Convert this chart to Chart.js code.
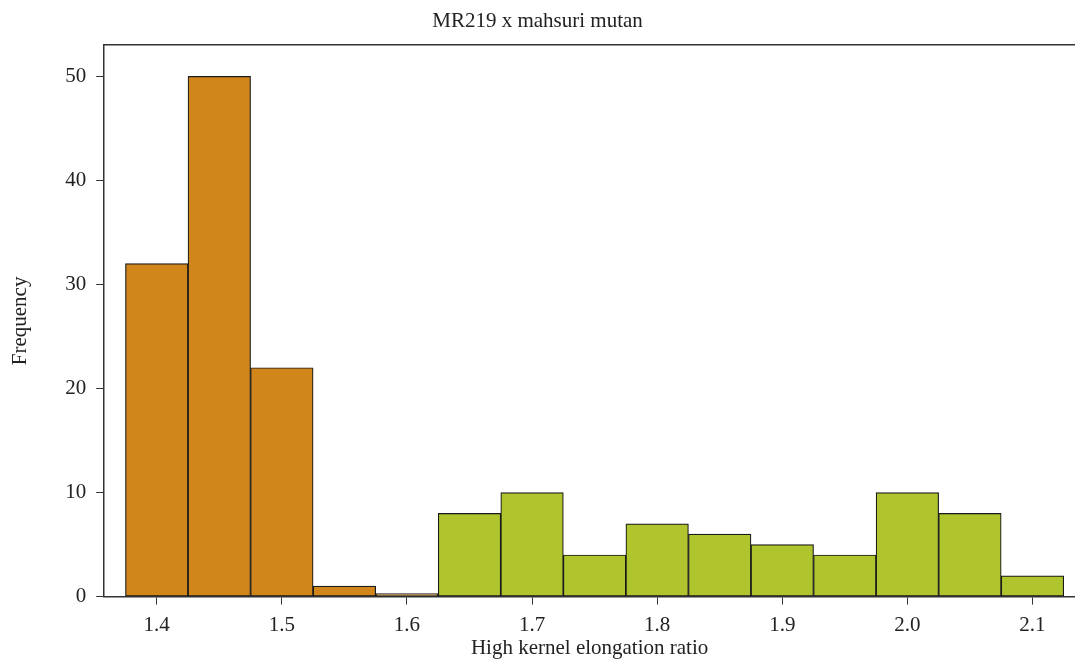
<!DOCTYPE html>
<html>
<head>
<meta charset="utf-8">
<script src="https://cdn.jsdelivr.net/npm/chart.js@4/dist/chart.umd.min.js"></script>
<style>
  html, body { margin: 0; padding: 0; background: #fff; }
  #wrap { width: 1075px; height: 665px; position: relative; }
</style>
</head>
<body>
<div id="wrap"><canvas id="hist"></canvas></div>
<script>
// bin centres (width 0.05) and counts
const binCentres = [1.40, 1.45, 1.50, 1.55, 1.60, 1.65, 1.70, 1.75, 1.80, 1.85, 1.90, 1.95, 2.00, 2.05, 2.10];
const counts     = [32,   50,   22,   1,    0,    8,    10,   4,    7,    6,    5,    4,    10,   8,    2];
const groupOf    = ['a',  'a',  'a',  'a',  'a',  'b',  'b',  'b',  'b',  'b',  'b',  'b',  'b',  'b',  'b'];
const xTicks = [1.4, 1.5, 1.6, 1.7, 1.8, 1.9, 2.0, 2.1];
const yTicks = [0, 10, 20, 30, 40, 50];

const ORANGE = '#d0861a';
const GREEN  = '#afc42d';
const INK    = '#333';
const FONT   = 'Liberation Serif, DejaVu Serif, serif';

Chart.defaults.font.family = FONT;
Chart.defaults.font.size = 21;
Chart.defaults.color = '#222';

const points = binCentres.map((x, i) => ({ x, y: counts[i] }));

new Chart(document.getElementById('hist'), {
  type: 'bar',
  data: {
    datasets: [{
      data: points,
      backgroundColor: groupOf.map(g => g === 'a' ? ORANGE : GREEN),
      borderColor: '#1a1a1a',
      borderWidth: 1.2,
      borderSkipped: false,
      minBarLength: 3,   // keeps the empty bin visible as a line on the axis
      barPercentage: 1,
      categoryPercentage: 1,
    }]
  },
  options: {
    responsive: true, maintainAspectRatio: false, animation: false,
    layout: { padding: { left: 0, right: 0, top: 0, bottom: 4 } },
    plugins: {
      legend: { display: false },
      tooltip: { enabled: false },
      title: {
        display: true, text: 'MR219 x mahsuri mutan',
        font: { size: 21, weight: 'normal' }, color: '#222',
        padding: { top: 9, bottom: 11 }
      }
    },
    scales: {
      x: {
        type: 'linear', position: 'bottom', offset: false,
        min: 1.358, max: 2.134,
        afterBuildTicks: s => { s.ticks = xTicks.map(v => ({ value: v })); },
        ticks: { callback: v => v.toFixed(1), padding: 8, maxRotation: 0 },
        grid: { offset: false, drawOnChartArea: false, drawTicks: true, tickLength: 8, color: INK },
        border: { display: true, color: INK, width: 1.5 },
        title: { display: true, text: 'High kernel elongation ratio', padding: { top: -10, bottom: 0 } }
      },
      xTop: {
        type: 'linear', position: 'top',
        ticks: { display: false },
        grid: { display: false, drawTicks: false },
        border: { display: true, color: INK, width: 1.5 }
      },
      y: {
        min: 0, max: 53,
        afterBuildTicks: s => { s.ticks = yTicks.map(v => ({ value: v })); },
        ticks: { padding: 10 },
        grid: { drawOnChartArea: false, drawTicks: true, tickLength: 8, color: INK },
        border: { display: true, color: INK, width: 1.5 },
        title: { display: true, text: 'Frequency', padding: { top: 8, bottom: 22 } }
      }
    }
  }
});
</script>
</body>
</html>
